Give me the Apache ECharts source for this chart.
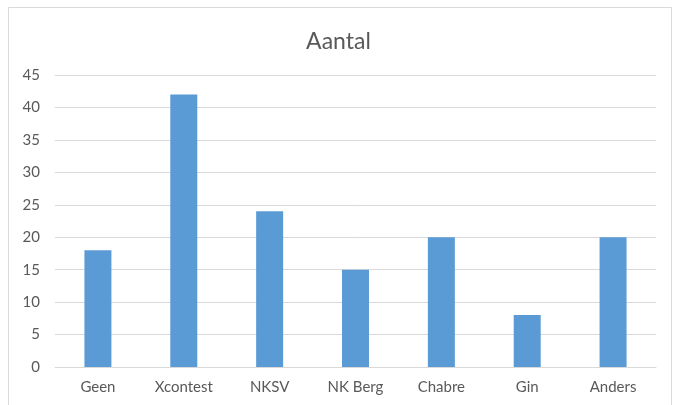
<!DOCTYPE html>
<html>
<head>
<meta charset="utf-8">
<script src="https://cdn.jsdelivr.net/npm/echarts@6/dist/echarts.min.js"></script>
<style>html,body{margin:0;padding:0;background:#fff}#c{width:677px;height:405px}</style>
</head>
<body>
<div id="c"></div>
<script>
const categories = ['Geen', 'Xcontest', 'NKSV', 'NK Berg', 'Chabre', 'Gin', 'Anders'];
const values = [18, 42, 24, 15, 20, 8, 20];
const titleText = 'Aantal';

const chart = echarts.init(document.getElementById('c'), null, {renderer: 'canvas'});
const font = 'Lato, "Open Sans", sans-serif';
chart.setOption({
  animation: false,
  backgroundColor: '#fff',
  title: {
    text: titleText,
    left: 'center',
    top: 25,
    textStyle: {fontFamily: font, fontSize: 23, fontWeight: 'normal', color: '#595959'}
  },
  graphic: [{
    type: 'rect',
    shape: {x: 8.5, y: 7.5, width: 663, height: 420},
    style: {fill: 'none', stroke: '#d9d9d9', lineWidth: 1},
    silent: true
  }],
  grid: {left: 55, right: 21, top: 75, bottom: 38, containLabel: false},
  xAxis: {
    type: 'category',
    data: categories,
    axisLine: {show: true, lineStyle: {color: '#d9d9d9'}},
    axisTick: {show: false},
    axisLabel: {fontFamily: font, fontSize: 15, color: '#595959', margin: 13}
  },
  yAxis: {
    type: 'value',
    min: 0,
    max: 45,
    interval: 5,
    axisLine: {show: false},
    axisTick: {show: false},
    splitLine: {lineStyle: {color: '#d9d9d9'}},
    axisLabel: {fontFamily: font, fontSize: 15, color: '#595959', margin: 15}
  },
  series: [{
    type: 'bar',
    data: values,
    barWidth: 27,
    itemStyle: {color: '#5b9bd5'}
  }]
});
</script>
</body>
</html>
